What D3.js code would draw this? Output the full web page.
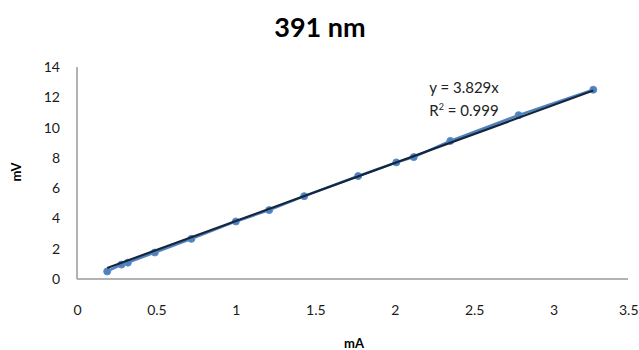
<!DOCTYPE html>
<html>
<head>
<meta charset="utf-8">
<script src="https://cdn.jsdelivr.net/npm/d3@7"></script>
<style>
  html, body { margin: 0; padding: 0; background: #fff; }
  svg { display: block; font-family: Lato, "Open Sans", sans-serif; }
</style>
</head>
<body>
<svg id="chart" width="639" height="350"></svg>
<script>
// Measured current (mA) and detector signal (mV) at 391 nm
const currentMA = [0.19, 0.28, 0.32, 0.49, 0.72, 1.0, 1.21, 1.43, 1.77, 2.01, 2.12, 2.35, 2.78, 3.25];
const signalMV  = [0.50, 0.95, 1.08, 1.75, 2.65, 3.80, 4.55, 5.47, 6.80, 7.70, 8.05, 9.12, 10.82, 12.50];
const xTicks = [0, 0.5, 1, 1.5, 2, 2.5, 3, 3.5];
const yTicks = [0, 2, 4, 6, 8, 10, 12, 14];
const slope = 3.829;
const rSquared = 0.999;

const svg = d3.select("#chart");
const x = d3.scaleLinear().domain([0, 3.5]).range([77, 633]);
const y = d3.scaleLinear().domain([0, 14]).range([279, 67]);

// Title
svg.append("text").attr("x", 320).attr("y", 37).attr("text-anchor", "middle")
  .attr("font-size", 27).attr("font-weight", "bold").attr("fill", "#000").text("391 nm");

// Axes (lines only, labels without tick marks)
svg.append("line").attr("x1", x(0)).attr("x2", x(0)).attr("y1", y(14)).attr("y2", y(0))
  .attr("stroke", "#9a9a9a").attr("stroke-width", 1.5);
svg.append("line").attr("x1", x(0)).attr("x2", 628).attr("y1", y(0)).attr("y2", y(0))
  .attr("stroke", "#9a9a9a").attr("stroke-width", 1.5);

const xAxis = d3.axisBottom(x).tickValues(xTicks).tickSize(0).tickPadding(0).tickFormat(d3.format("~g"));
const gx = svg.append("g").attr("transform", `translate(0,${y(0) + 26})`).call(xAxis);
gx.select(".domain").remove();
gx.selectAll("text").attr("font-size", 14).attr("fill", "#1a1a1a").attr("font-family", "Lato, sans-serif");
// keep the last label inside the frame
gx.selectAll(".tick").filter(d => d === 3.5).select("text")
  .attr("text-anchor", "end").attr("x", 638 - x(3.5));

const yAxis = d3.axisLeft(y).tickValues(yTicks).tickSize(0).tickPadding(0);
const gy = svg.append("g").attr("transform", `translate(60,0)`).call(yAxis);
gy.select(".domain").remove();
gy.selectAll("text").attr("font-size", 14).attr("fill", "#1a1a1a").attr("font-family", "Lato, sans-serif");

// Axis titles
svg.append("text").attr("x", 354).attr("y", 348).attr("text-anchor", "middle")
  .attr("font-size", 13).attr("font-weight", "bold").attr("fill", "#000").text("mA");
svg.append("text").attr("transform", "translate(21,172) rotate(-90)").attr("text-anchor", "middle")
  .attr("font-size", 13).attr("font-weight", "bold").attr("fill", "#000").text("mV");

// Data series
const pts = currentMA.map((d, i) => [d, signalMV[i]]);
svg.append("path").datum(pts)
  .attr("d", d3.line().x(d => x(d[0])).y(d => y(d[1])))
  .attr("fill", "none").attr("stroke", "#4f81bd").attr("stroke-width", 2.5);
svg.selectAll("circle.pt").data(pts).join("circle").attr("class", "pt")
  .attr("cx", d => x(d[0])).attr("cy", d => y(d[1])).attr("r", 3.5)
  .attr("fill", "#4f81bd").attr("stroke", "#5b8cc9").attr("stroke-width", 1);

// Linear trendline through the origin
const xMin = d3.min(currentMA), xMax = d3.max(currentMA);
svg.append("line")
  .attr("x1", x(xMin)).attr("y1", y(slope * xMin))
  .attr("x2", x(xMax)).attr("y2", y(slope * xMax))
  .attr("stroke", "#14253d").attr("stroke-width", 2.2);

// Trendline equation
const eq = svg.append("g").attr("font-size", 15).attr("fill", "#222").attr("text-anchor", "middle");
eq.append("text").attr("x", 464).attr("y", 93).text(`y = ${slope}x`);
const r2 = eq.append("text").attr("x", 464).attr("y", 116);
r2.append("tspan").text("R");
r2.append("tspan").attr("font-size", 9).attr("dy", -6).text("2");
r2.append("tspan").attr("dy", 6).text(` = ${rSquared}`);
</script>
</body>
</html>
